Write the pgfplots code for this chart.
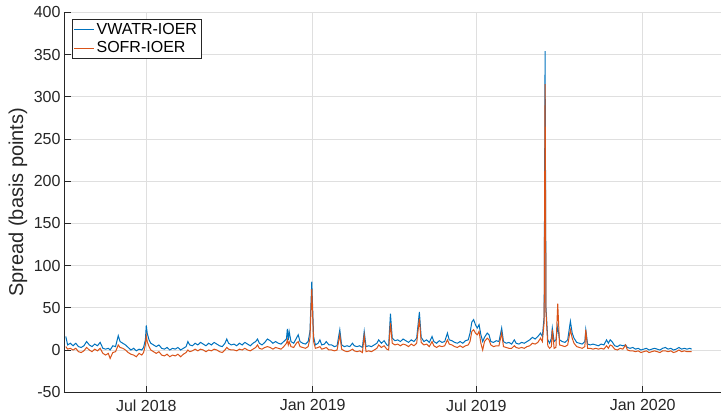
\documentclass[border=0pt]{standalone}
\usepackage{fontspec}
\setmainfont{Liberation Sans}
\usepackage{pgfplots}
\pgfplotsset{compat=1.18}
\usepackage{pgfplotstable}

\definecolor{mblue}{RGB}{0,114,189}
\definecolor{morange}{RGB}{217,83,25}
\definecolor{axgray}{RGB}{38,38,38}
\definecolor{gridgray}{RGB}{223,223,223}

% day = days since 1 Jan 2018; spreads in basis points
\pgfplotstableread{
day vwatr sofr
92 16 4
94 6 1
97 8 2
100 5 0
103 8 2
106 4 -2
109 3 -3
112 5 -1
115 10 3
118 6 0
121 4 -2
124 7 1
127 5 -1
130 9 2
133 2 -4
136 1 -6
139 2 -4
141 0 -10
144 5 -3
147 4 -2
150 17 6
152 10 3
155 8 2
158 6 0
161 3 -3
164 0 -5
167 2 -6
170 -1 -8
173 1 -4
176 0 -6
178 3 -3
180 12 6
181 29 17
182 20 10
184 12 4
186 8 0
189 6 -2
192 4 -4
195 6 -2
198 2 -6
201 1 -7
204 3 -5
207 0 -8
210 2 -6
213 1 -7
216 3 -5
219 0 -8
222 2 -5
225 4 -3
227 10 0
229 6 -2
232 5 -1
235 8 1
238 6 -1
241 9 1
244 7 0
247 5 -2
250 8 0
253 6 -1
256 9 1
259 7 0
262 5 -2
265 4 -3
268 8 0
270 13 3
272 8 1
275 6 0
278 7 0
281 5 -1
284 8 1
287 6 0
290 9 2
293 7 0
296 5 -1
299 8 1
302 10 3
304 13 6
306 8 2
309 6 1
312 9 3
315 13 4
318 11 3
321 8 1
324 10 3
327 8 2
330 7 1
333 10 4
336 13 8
337 25 12
338 12 6
339 22 10
341 10 4
344 8 3
347 14 8
349 18 10
351 10 4
354 8 3
357 7 2
360 10 4
362 22 14
364 81 72
366 16 10
368 6 2
371 8 3
373 12 4
375 6 1
378 7 2
380 10 3
383 6 0
386 6 0
389 4 -1
392 5 0
395 24 18
397 6 1
400 4 -1
403 5 -2
406 4 -1
409 8 1
411 5 -1
414 4 -2
417 5 -1
420 3 -3
422 22 17
424 4 -2
427 5 -1
430 4 -2
433 6 0
436 8 2
438 12 6
441 8 3
444 11 5
447 6 1
449 5 0
451 43 32
453 14 8
456 11 6
459 12 7
462 10 5
465 13 7
468 11 6
471 9 4
474 12 7
477 10 5
480 14 8
483 45 37
485 15 9
488 10 6
491 12 7
494 9 4
497 16 10
499 10 5
502 8 3
505 11 5
508 9 4
511 10 5
514 20 12
516 12 7
519 11 6
522 9 4
525 8 3
528 10 5
531 8 3
534 11 5
537 12 6
539 20 10
541 33 22
543 36 24
545 30 20
547 26 18
549 30 22
551 18 8
553 10 0
555 15 10
558 20 14
560 18 12
562 10 6
565 9 4
568 11 5
571 10 5
574 26 20
576 10 4
579 8 3
582 9 2
585 7 2
588 12 5
590 8 3
593 7 2
596 9 3
599 8 2
602 10 4
605 12 5
608 15 8
611 13 7
614 16 9
617 20 14
619 16 10
621 40 33
622 354 315
623 50 45
625 12 5
627 8 2
629 14 4
630 26 24
632 10 2
634 12 3
636 28 55
638 12 6
641 10 5
644 9 4
647 12 6
650 34 24
652 20 14
654 14 8
657 9 4
660 8 3
663 7 2
666 10 4
667 24 24
669 7 2
672 6 2
675 7 1
678 6 2
681 5 1
684 7 2
687 6 1
690 12 5
692 8 2
694 12 6
696 10 5
699 5 1
702 4 0
705 6 2
708 5 1
711 6 6
713 3 0
716 2 -1
719 3 -1
722 1 -2
725 2 -1
728 0 -3
731 1 -2
734 2 -1
737 0 -3
740 1 -2
743 2 -1
746 1 -2
749 0 -3
752 2 -1
755 3 -1
758 1 -2
761 2 -1
764 0 -3
767 1 -2
770 3 0
773 1 -2
776 2 -1
779 1 -2
782 2 -2
784 1 -2
}\spreads

\begin{document}
\begin{tikzpicture}
\begin{axis}[
    name=main,
    scale only axis,
    width=656.5bp,
    height=379.9bp,
    xmin=90, xmax=816,
    ymin=-50, ymax=400,
    xtick={181,365,546,730},
    xticklabels={Jul 2018, Jan 2019, Jul 2019, Jan 2020},
    ytick={-50,0,50,100,150,200,250,300,350,400},
    /pgf/number format/assume math mode=true,
    axis x line*=bottom,
    axis y line*=left,
    axis line style={axgray, line width=0.6bp},
    tick align=inside,
    major tick length=6.6bp,
    tick style={axgray, line width=0.6bp},
    grid=major,
    major grid style={gridgray, line width=0.6bp},
    tick label style={font=\fontsize{16bp}{19bp}\selectfont, text=axgray},
    xticklabel style={yshift=-4bp},
    ylabel={Spread (basis points)},
    ylabel style={at={(axis description cs:0,0.5)}, anchor=center,
        yshift=46bp, font=\fontsize{20bp}{23bp}\selectfont, text=axgray},
    legend style={at={(axis description cs:0,1)}, anchor=north west,
        xshift=7.5bp, yshift=-6.5bp, draw=axgray, fill=white,
        inner xsep=2bp, inner ysep=2bp, row sep=2bp,
        font=\fontsize{16bp}{19bp}\selectfont},
    legend cell align=left,
    legend image code/.code={\draw[#1, line width=0.9bp] (0bp,0bp) -- (20bp,0bp);},
]
\addplot[mblue, line width=1bp] table[x=day, y=vwatr] {\spreads};
\addlegendentry{VWATR-IOER}
\addplot[morange, line width=1bp] table[x=day, y=sofr] {\spreads};
\addlegendentry{SOFR-IOER}
\coordinate (SW) at (rel axis cs:0,0);
\coordinate (NE) at (rel axis cs:1,1);
\end{axis}
\pgfresetboundingbox
\path[use as bounding box] ([xshift=-64bp,yshift=-22.8bp]SW) rectangle ([xshift=1.5bp,yshift=12.3bp]NE);
\end{tikzpicture}
\end{document}
